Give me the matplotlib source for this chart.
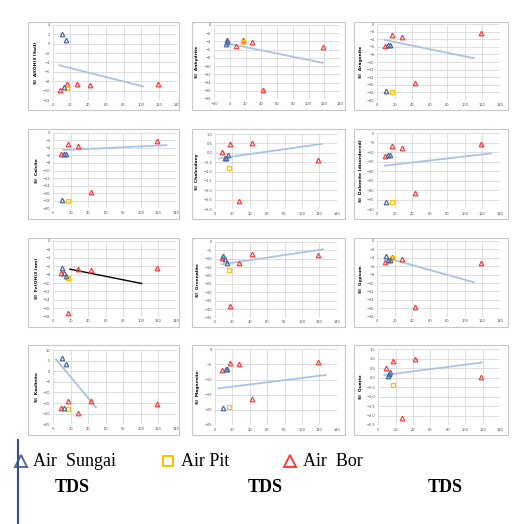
import matplotlib
matplotlib.use("Agg")
import matplotlib.pyplot as plt
import numpy as np

W, H = 513, 524

panel_labels = ["SI  Al(OH)3 (Soil)", "SI  Anhydrite", "SI  Aragonite",
                "SI  Calcite", "SI  Chalcedony", "SI  Dolomite (disordered)",
                "SI  Fe(OH)3 (am)", "SI  Greenalite", "SI  Gypsum",
                "SI  Kaolinite", "SI  Magnesite", "SI  Quartz"]
y_lo = [-12, -18, -20, -20, -3, -40, -18, -45, -18, -25, -25, -2.5]
y_hi = [4, 0, 0, 0, 1, 0, 0, 0, 0, 10, 0, 1.5]
y_step = [2, 2, 2, 2, 0.5, 5, 2, 5, 2, 5, 5, 0.5]
x_lo = [0, -20, 0, 0, 0, 0, 0, 0, 0, 0, 0, 0]
x_hi = [140] * 12
x_step = 20

bor_x = [8.5, 16.7, 27.8, 42.5, 118.5]
bor_y = [[-9.9, -8.6, -8.6, -8.7, -8.5],
         [-5.1, -3.6, -4.2, -15.9, -5.3],
         [-5.7, -3.0, -3.3, -15.4, -2.3],
         [-5.7, -3.0, -3.4, -15.8, -2.2],
         [0.06, 0.45, -2.57, 0.5, -0.39],
         [-11.8, -6.5, -7.6, -31.4, -5.6],
         [-7.5, -17.2, -6.7, -6.9, -6.5],
         [-9.9, -38.0, -12.8, -7.3, -7.9],
         [-5.1, -3.7, -4.3, -15.7, -5.2],
         [-17.2, -14.1, -19.8, -14.1, -15.4],
         [-6.8, -4.4, -5.0, -16.5, -4.2],
         [0.5, 0.88, -2.15, 0.97, 0.05]]

pit_x = 16.5
pit_y = [-9.4, -4.1, -17.8, -18.1, -0.8, -36.3, -8.9, -16.6, -4.1, -17.9, -18.9, -0.39]

sungai_x = [[11, 15, 13], [-4.5, -4, -3.5], [12.5, 14, 10], [12.5, 14, 10],
            [11.5, 13, 15], [12.5, 14.4, 10], [10, 12, 14], [9.6, 11, 13.4],
            [10, 12.5, 14], [10, 14.4, 12], [12.5, 14, 9.6], [10.7, 12.3, 14]]
sungai_y = [[2.1, 0.7, -9.3], [-4.7, -4.2, -3.6], [-5.5, -5.5, -17.5], [-5.7, -5.7, -17.7],
            [-0.3, -0.28, -0.12], [-11.5, -11.5, -36.3], [-6.5, -7.5, -8.3], [-8.3, -10.3, -12.8],
            [-3.5, -4.5, -4.5], [6.1, 3.2, -17.2], [-6.6, -6.6, -19.5], [0.09, 0.18, 0.28]]

trend_x0 = [7.5, 0, 8.7, 11.4, 5, 8.7, 19, 7.7, 11.8, 3, 4, 7]
trend_y0 = [-4.6, -4.6, -4.2, -4.6, -0.3, -17.1, -6.7, -13.4, -4.1, 5.6, -12.9, 0.14]
trend_x1 = [102, 118, 110, 129, 122.6, 130, 100.7, 124.5, 110, 48.7, 127, 119]
trend_y1 = [-9.1, -9.2, -9.0, -3.3, 0.47, -10.6, -10.1, -4.5, -9.8, -17.0, -8.5, 0.8]
trend_black = [False, False, False, False, False, False, True, False, False, False, False, False]

legend_names = ["Air  Sungai", "Air Pit", "Air  Bor"]
xlabel_text = "TDS"

# layout (pixels)
axes_px = [(52.7, 176.7, 25, 100), (214, 340, 25, 99), (377.3, 500, 24, 100),
           (53.3, 176, 132.7, 208.3), (215, 336.7, 134, 209), (377.3, 500, 133.3, 209),
           (53.3, 176, 241, 316.7), (215, 336.7, 241.7, 317.7), (377.3, 500, 241, 316.7),
           (53.3, 176, 350, 424.3), (215, 336.7, 349.3, 425), (378.3, 500, 349.3, 425)]
box_cols = [(28, 179), (192, 345), (354, 508)]
box_rows = [(22, 110), (129, 219), (238, 327), (345, 435)]

C_BLUE = "#4a6aa5"
C_RED = "#ff3b3b"
C_YEL = "#ffc000"
C_TREND = "#a9c3e3"

fig = plt.figure(figsize=(W / 100, H / 100), dpi=100)

def frac_rect(l, r, t, b):
    return [l / W, 1 - b / H, (r - l) / W, (b - t) / H]

# panel borders
for (rt, rb) in box_rows:
    for (cl, cr) in box_cols:
        fig.patches.append(plt.Rectangle((cl / W, 1 - rb / H), (cr - cl) / W, (rb - rt) / H,
                                         transform=fig.transFigure, fill=False,
                                         edgecolor="#c8c8c8", linewidth=0.8))

for i in range(12):
    l, r, t, b = axes_px[i]
    ax = fig.add_axes(frac_rect(l, r, t, b))
    ax.set_xlim(x_lo[i], x_hi[i])
    ax.set_ylim(y_lo[i], y_hi[i])
    ax.set_xticks(np.arange(x_lo[i], x_hi[i] + 1, x_step))
    ax.set_yticks(np.arange(y_lo[i], y_hi[i] + y_step[i] / 2, y_step[i]))
    ax.grid(True, color="#d9d9d9", linewidth=0.6)
    ax.set_axisbelow(True)
    for s in ax.spines.values():
        s.set_visible(False)
    ax.tick_params(length=0, labelsize=2.6, labelcolor="#555555", pad=2)
    ax.set_ylabel(panel_labels[i], fontsize=3.2, fontweight="bold", labelpad=3)
    ax.plot([trend_x0[i], trend_x1[i]], [trend_y0[i], trend_y1[i]],
            color="black" if trend_black[i] else C_TREND,
            linewidth=1.0 if trend_black[i] else 1.3, zorder=2)
    ax.plot(bor_x, bor_y[i], linestyle="none", marker="^", markersize=3.3,
            markerfacecolor="none", markeredgecolor=C_RED, markeredgewidth=0.9, zorder=3)
    ax.plot([pit_x], [pit_y[i]], linestyle="none", marker="s", markersize=2.8,
            markerfacecolor="none", markeredgecolor=C_YEL, markeredgewidth=0.9, zorder=3)
    ax.plot(sungai_x[i], sungai_y[i], linestyle="none", marker="^", markersize=3.3,
            markerfacecolor="none", markeredgecolor=C_BLUE, markeredgewidth=0.9, zorder=4)

# legend row
leg_marker_x = [21, 168, 290]
leg_text_x = [33, 181, 303]
leg_markers = ["^", "s", "^"]
leg_colors = [C_BLUE, C_YEL, C_RED]
for k in range(3):
    fig.lines.append(plt.Line2D([leg_marker_x[k] / W], [1 - 461 / H], transform=fig.transFigure,
                                marker=leg_markers[k], markersize=8 if k != 1 else 7,
                                markerfacecolor="none", markeredgecolor=leg_colors[k],
                                markeredgewidth=1.4, linestyle="none"))
    fig.text(leg_text_x[k] / W, 1 - 461 / H, legend_names[k], fontsize=13,
             family="Liberation Serif", va="center", ha="left")

for xc in [72, 265, 445]:
    fig.text(xc / W, 1 - 488 / H, xlabel_text, fontsize=13, fontweight="bold",
             family="Liberation Serif", va="center", ha="center")

fig.lines.append(plt.Line2D([18 / W, 18 / W], [0, 1 - 440 / H], transform=fig.transFigure,
                            color="#2f4f8f", linewidth=1.5))

fig.savefig("out.png", dpi=100)
